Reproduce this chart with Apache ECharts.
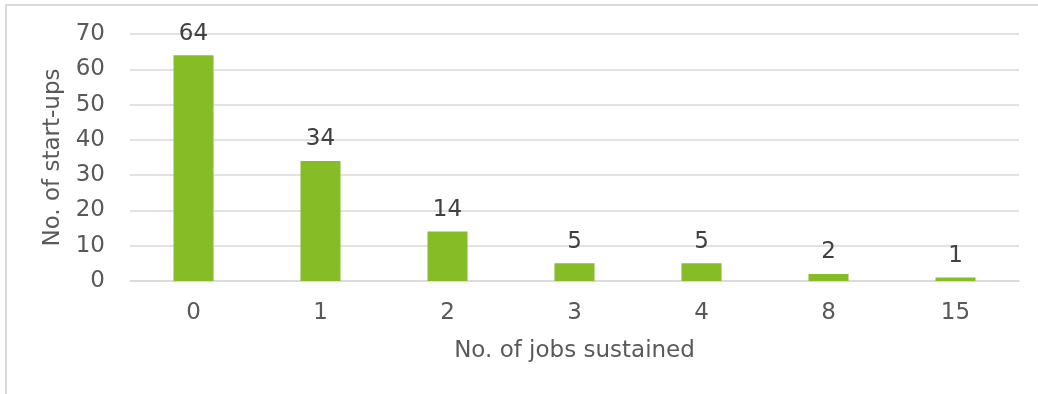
<!DOCTYPE html>
<html>
<head>
<meta charset="utf-8">
<script src="https://cdn.jsdelivr.net/npm/echarts@6/dist/echarts.min.js"></script>
<style>
  html, body { margin: 0; padding: 0; background: #fff; }
  #frame { position: absolute; left: 5px; top: 4px; width: 1040px; height: 400px;
           border: 2px solid #d9d9d9; box-sizing: border-box; }
  #chart { position: absolute; left: 0; top: 0; width: 1038px; height: 394px; }
</style>
</head>
<body>
<div id="frame"></div>
<div id="chart"></div>
<script>
// Start-ups grouped by the number of jobs they sustained
const jobCategories = ['0', '1', '2', '3', '4', '8', '15'];
const startupCounts = [64, 34, 14, 5, 5, 2, 1];
const yTicks = [0, 10, 20, 30, 40, 50, 60, 70];

const textColor = '#595959';
const font = 'DejaVu Sans, Verdana, sans-serif';
const fontSize = 23;

const chart = echarts.init(document.getElementById('chart'), null, { renderer: 'canvas' });
chart.setOption({
  animation: false,
  grid: { left: 130, right: 19, top: 34, bottom: 113, containLabel: false },
  xAxis: {
    type: 'category',
    data: jobCategories,
    name: 'No. of jobs sustained',
    nameLocation: 'middle',
    nameGap: 59,
    nameTextStyle: { color: textColor, fontSize: fontSize, fontFamily: font },
    axisLine: { lineStyle: { color: '#d9d9d9', width: 1.5 } },
    axisTick: { show: false },
    axisLabel: { color: textColor, fontSize: fontSize, fontFamily: font, margin: 21 }
  },
  yAxis: {
    type: 'value',
    min: yTicks[0],
    max: yTicks[yTicks.length - 1],
    interval: 10,
    name: 'No. of start-ups',
    nameLocation: 'middle',
    nameGap: 63,
    nameRotate: 90,
    nameTextStyle: { color: textColor, fontSize: fontSize, fontFamily: font },
    axisLine: { show: false },
    axisTick: { show: false },
    axisLabel: { color: textColor, fontSize: fontSize, fontFamily: font, margin: 25 },
    splitLine: { lineStyle: { color: '#d9d9d9', width: 1.5 } }
  },
  series: [{
    type: 'bar',
    data: startupCounts,
    barWidth: '31.5%',
    itemStyle: { color: '#86bc25' },
    label: {
      show: true,
      position: 'top',
      distance: 10,
      color: '#404040',
      fontSize: fontSize,
      fontFamily: font
    }
  }]
});
</script>
</body>
</html>
